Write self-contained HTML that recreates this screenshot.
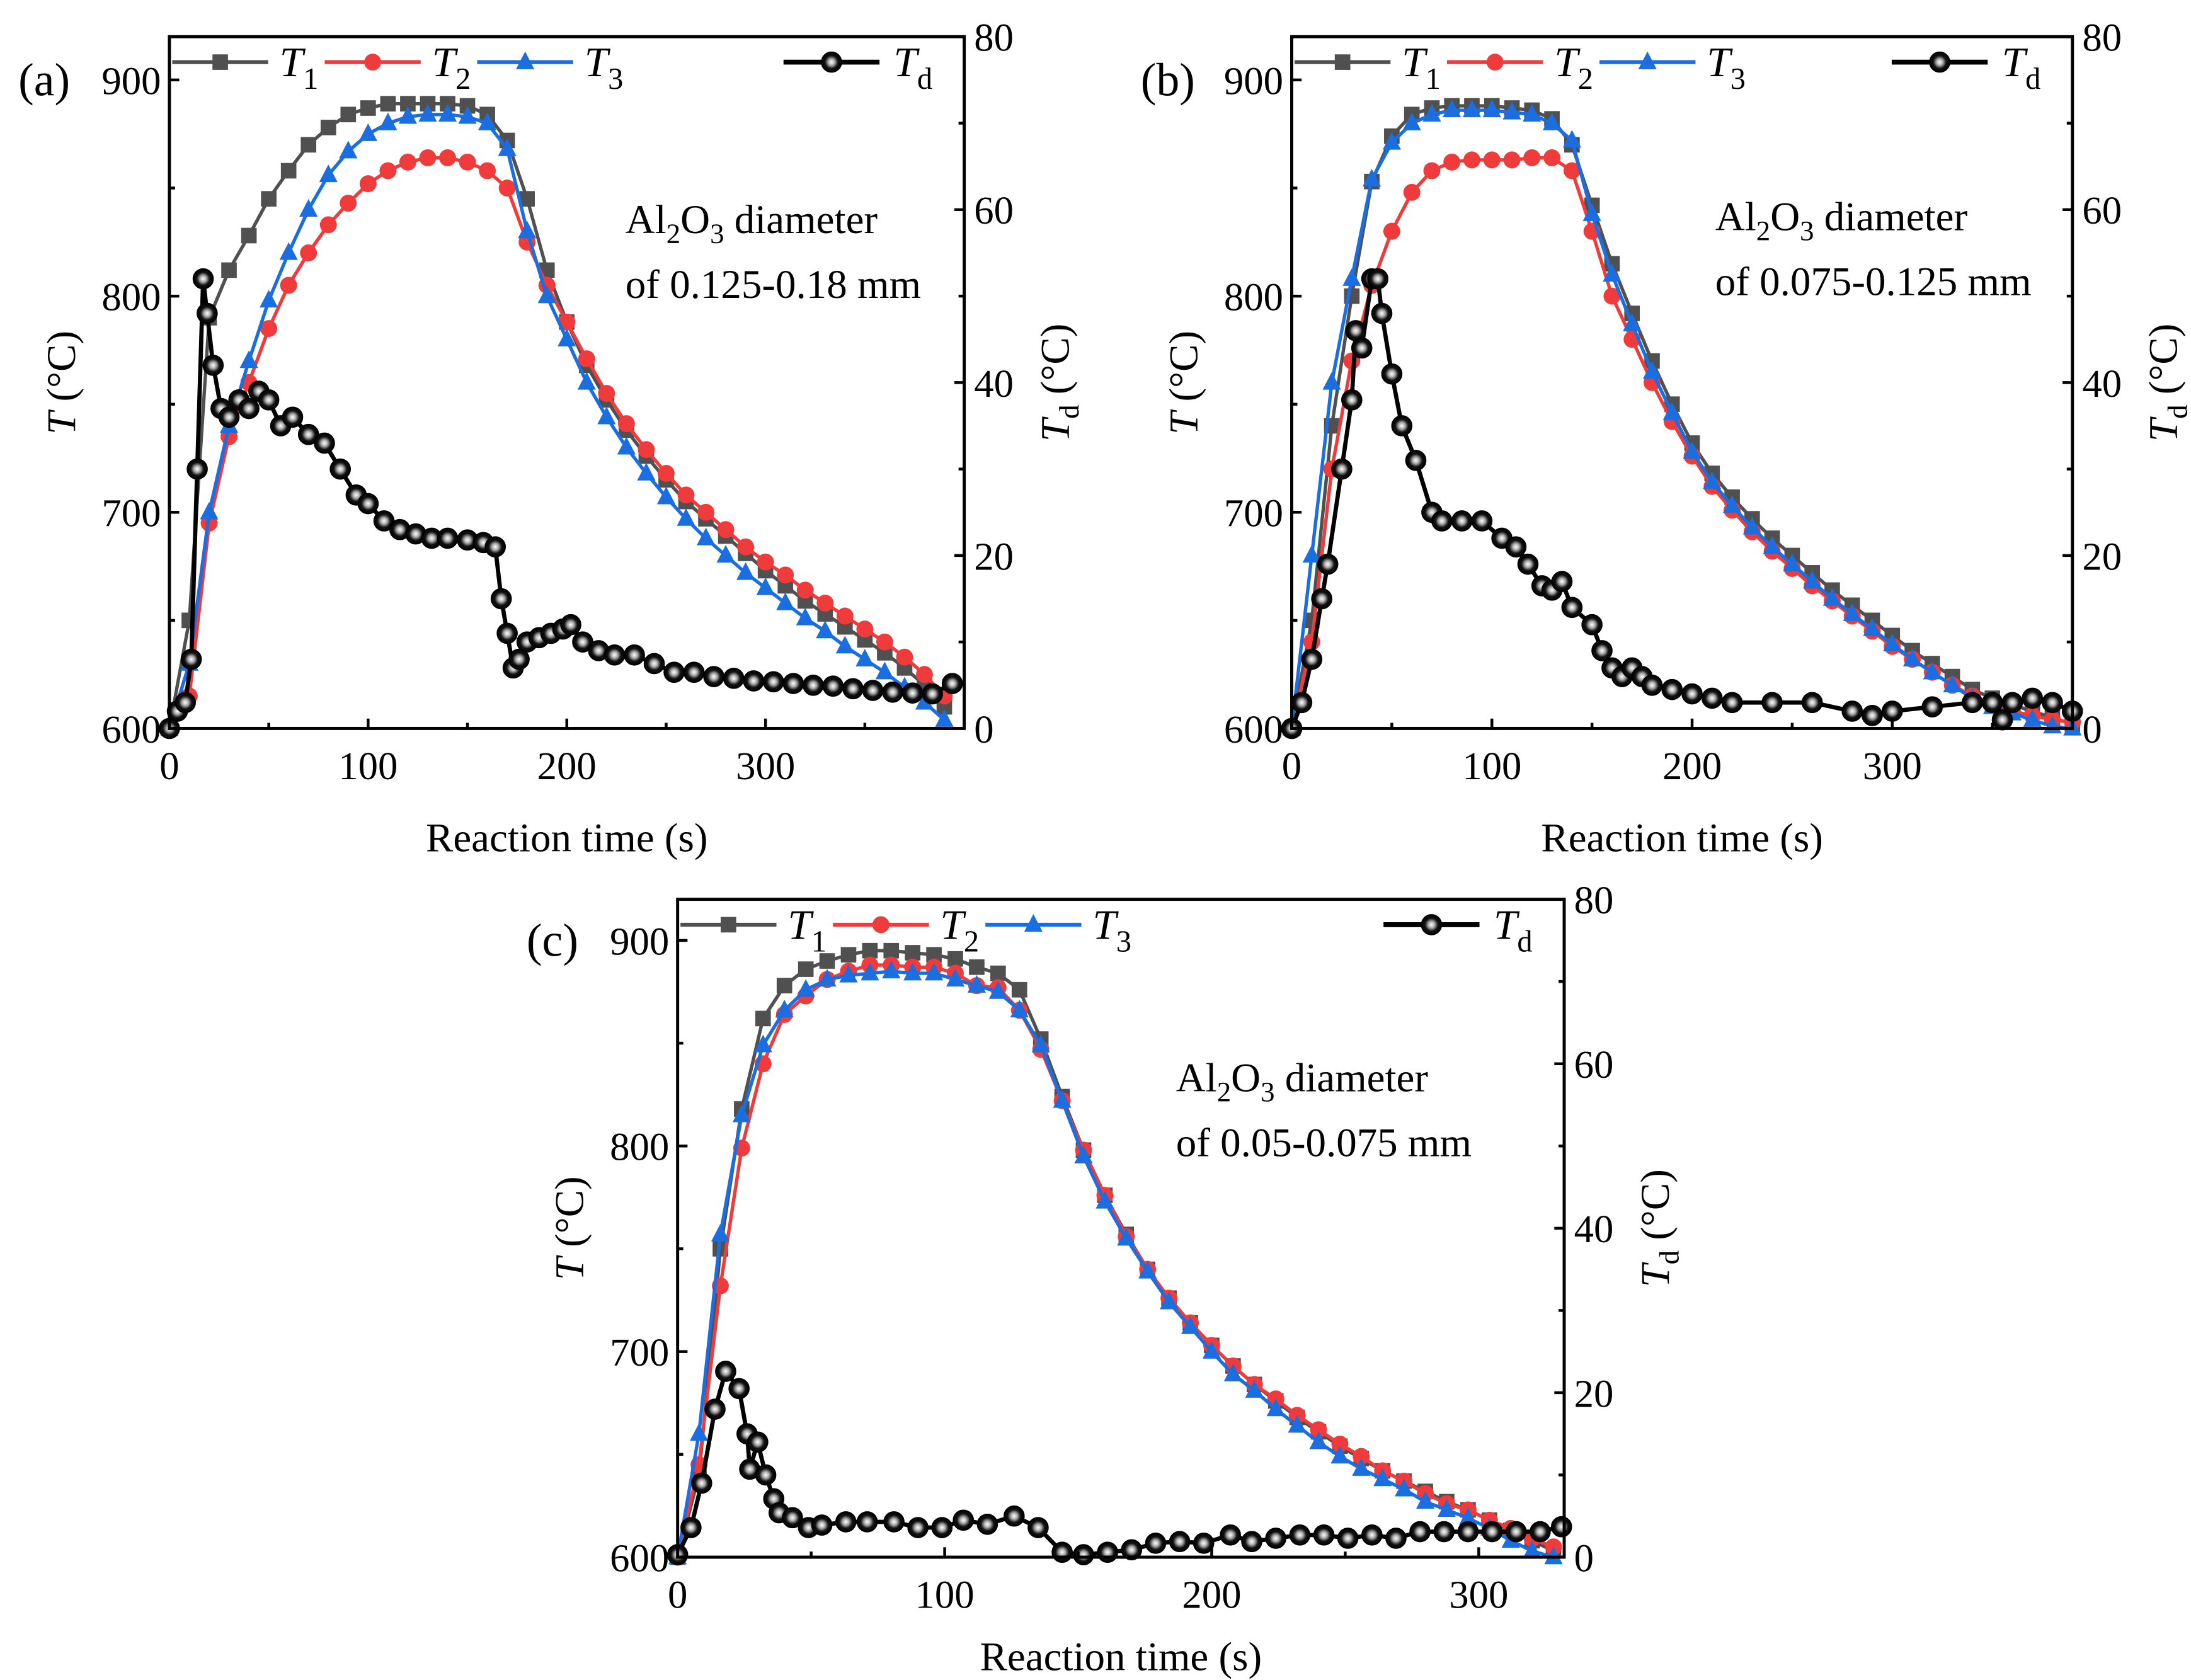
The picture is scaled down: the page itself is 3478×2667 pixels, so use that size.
<!DOCTYPE html>
<html><head><meta charset="utf-8">
<style>
html,body{margin:0;padding:0;background:#fff;}
svg{display:block;font-family:"Liberation Serif",serif;}
</style></head>
<body>
<svg id="fig" width="3478" height="2667" viewBox="0 0 1552 1190" preserveAspectRatio="none" xmlns="http://www.w3.org/2000/svg">
<defs>
<radialGradient id="ball" cx="0.5" cy="0.5" r="0.55">
<stop offset="0" stop-color="#ffffff"/><stop offset="0.3" stop-color="#aaaaaa"/><stop offset="0.6" stop-color="#111"/><stop offset="1" stop-color="#000"/>
</radialGradient>
</defs>
<rect x="0" y="0" width="1552" height="1190" fill="#fff"/>
</svg>
<script>
// ---- Panel (a) data ----
const aTime = [0,10,20,30,40,50,60,70,80,90,100,110,120,130,140,150,160,170,180,190,200,210,220,230,240,250,260,270,280,290,300,310,320,330,340,350,360,370,380,390];
const aT1 = [600,650,790,812,828,845,858,870,878,884,887,889,889,889,889,888,884,872,845,812,788,768,752,738,726,715,705,697,689,681,673,666,659,653,647,641,635,628,620,610];
const aT2 = [600,615,695,735,760,785,805,820,833,843,852,858,862,864,864,862,858,850,825,805,788,771,755,741,729,718,708,700,692,684,677,671,664,658,652,646,640,633,625,615];
const aT3 = [600,630,700,740,770,798,820,840,856,867,875,880,883,884,884,883,880,868,830,800,780,760,744,730,718,707,697,688,680,672,665,658,651,645,638,632,626,619,612,604];
const aTdTime = [0,4,8,11,14,17,19,22,26,30,35,40,45,50,56,62,70,78,86,94,100,108,116,124,132,140,150,158,164,167,170,173,176,180,186,192,198,202,208,216,224,234,244,254,264,274,284,294,304,314,324,334,344,354,364,374,384,394];
const aTd = [0,2,3,8,30,52,48,42,37,36,38,37,39,38,35,36,34,33,30,27,26,24,23,22.5,22,22,21.8,21.5,21,15,11,7,8,10,10.5,11,11.5,12,10,9,8.5,8.5,7.5,6.5,6.5,6,5.8,5.5,5.4,5.2,5,4.9,4.6,4.4,4.2,4.1,4,5.2];
// ---- Panel (b) data ----
const bTime = [0,10,20,30,40,50,60,70,80,90,100,110,120,130,140,150,160,170,180,190,200,210,220,230,240,250,260,270,280,290,300,310,320,330,340,350,360,370,380,390];
const bT1 = [600,650,740,800,853,874,884,887,888,888,888,887,886,882,870,842,815,792,770,750,732,718,707,697,688,680,672,664,657,650,643,636,630,624,618,614,611,608,605,602];
const bT2 = [600,640,720,770,805,830,848,858,862,863,863,863,864,864,858,830,800,780,760,742,726,712,701,691,682,674,666,659,652,645,638,632,626,620,615,611,608,606,604,603];
const bT3 = [600,680,760,808,854,871,880,884,886,886,886,885,884,880,872,838,810,787,765,746,728,714,703,693,684,676,668,660,653,646,639,632,626,620,614,610,607,604,601,600];
const bTdTime = [0,5,10,15,18,25,30,32,35,40,43,45,50,55,62,70,75,85,95,105,112,118,125,130,135,140,150,155,160,165,170,175,180,190,200,210,220,240,260,280,290,300,320,340,350,355,360,370,380,390];
const bTd = [0,3,8,15,19,30,38,46,44,52,52,48,41,35,31,25,24,24,24,22,21,19,16.5,16,17,14,12,9,7,6,7,6,5,4.5,4,3.5,3,3,3,2,1.5,2,2.5,3,3,1,3,3.5,3,2];
// ---- Panel (c) data ----
const cTime = [0,8,16,24,32,40,48,56,64,72,80,88,96,104,112,120,128,136,144,152,160,168,176,184,192,200,208,216,224,232,240,248,256,264,272,280,288,296,304,312,320,328];
const cT1 = [600,640,750,818,862,878,886,890,893,895,895,894,893,891,887,884,876,852,824,798,776,757,740,726,714,703,693,684,676,668,661,654,648,642,637,632,627,623,618,613,608,603];
const cT2 = [600,645,732,799,840,864,873,881,885,888,888,887,887,884,878,877,866,847,822,798,776,756,740,726,714,703,693,684,677,669,662,655,649,642,637,631,626,623,618,614,609,605];
const cT3 = [600,660,757,815,849,866,876,881,883,884,885,884,884,881,878,875,866,849,822,795,773,755,739,724,712,700,689,681,672,664,656,649,643,638,633,627,623,619,614,608,603,600];
const cTdTime = [0,5,9,14,18,23,26,27,30,33,36,38,43,49,54,63,71,81,90,99,107,116,126,135,144,152,161,170,179,188,197,207,215,224,233,242,251,260,269,278,287,296,305,314,323,331];
const cTd = [0.3,3.6,9,18,22.6,20.5,15,10.7,14,10,7.1,5.4,4.8,3.6,3.9,4.3,4.3,4.3,3.6,3.6,4.5,4,5,3.6,0.6,0.3,0.6,0.9,1.7,1.9,1.7,2.7,1.9,2.3,2.7,2.7,2.3,2.7,2.3,3.1,3.1,3.1,3.1,3.1,3.1,3.7];
const tTicksA = [0,100,200,300];
const yTicks = [600,700,800,900];
const y2Ticks = [0,20,40,60,80];

const NS = 'http://www.w3.org/2000/svg';
const svg = document.getElementById('fig');
function mk(parent, tag, attrs){
  const e = document.createElementNS(NS, tag);
  for (const k in attrs) e.setAttribute(k, attrs[k]);
  parent.appendChild(e);
  return e;
}
const C1 = '#505050', C2 = '#ef3b3b', C3 = '#1a6ee0';

function marker(g, kind, x, y, color){
  let m;
  if (kind === 'sq') m = mk(g,'rect',{x:x-5.5,y:y-5.5,width:11,height:11,fill:color});
  else if (kind === 'ci') m = mk(g,'circle',{cx:x,cy:y,r:6,fill:color});
  else if (kind === 'tr') m = mk(g,'polygon',{points:`${x},${y-7.5} ${x-6.5},${y+5} ${x+6.5},${y+5}`,fill:color});
  else { m = mk(g,'circle',{cx:x,cy:y,r:7,fill:'url(#ball)',stroke:'#000','stroke-width':1}); }
  return m;
}

function labelT(g, x, y, sub, size){
  const t = mk(g,'text',{x:x,y:y,'font-size':size});
  const a = mk(t,'tspan',{'font-style':'italic'}); a.textContent='T';
  const b = mk(t,'tspan',{dy:size*0.3,'font-size':size*0.72}); b.textContent=sub;
  return t;
}

function panel(o){
  const g = mk(svg,'g',{});
  
  
  const sx = t => o.x0 + t/o.tmax*(o.x1-o.x0);
  const sy = T => o.y1 - (T-600)/320*(o.y1-o.y0);
  const sy2 = v => o.y1 - v/80*(o.y1-o.y0);
  const series = [[o.T1,C1,'sq','t1'],[o.T2,C2,'ci','t2'],[o.T3,C3,'tr','t3']];
  series.forEach(s=>{
    const sg = mk(g,'g',{});
    
    
    const pts = o.time.map((t,i)=>sx(t).toFixed(1)+','+sy(s[0][i]).toFixed(1)).join(' ');
    const pl = mk(sg,'polyline',{points:pts,fill:'none',stroke:s[1],'stroke-width':2.4});
    
    
    o.time.forEach((t,i)=>{
      const m = marker(sg, s[2], sx(t), sy(s[0][i]), s[1]);
      
      
    });
  });
  const dg = mk(g,'g',{});
  
  
  const dpts = o.tdTime.map((t,i)=>sx(t).toFixed(1)+','+sy2(o.td[i]).toFixed(1)).join(' ');
  const dl = mk(dg,'polyline',{points:dpts,fill:'none',stroke:'#000','stroke-width':3,'stroke-linejoin':'round'});
  
  
  o.tdTime.forEach((t,i)=>{
    const m = marker(dg,'ball',sx(t),sy2(o.td[i]));
    
    
  });
  const fr = mk(g,'rect',{x:o.x0,y:o.y0,width:o.x1-o.x0,height:o.y1-o.y0,fill:'none',stroke:'#000','stroke-width':2.2});
  
  
  for (let t=0; t<=o.tmax; t+=50){
    const major = t%100===0;
    const tk = mk(g,'line',{x1:sx(t),x2:sx(t),y1:o.y1,y2:o.y1-(major?7:4),stroke:'#000','stroke-width':2});
    
    
  }
  tTicksA.forEach(t=>{
    const tx = mk(g,'text',{x:sx(t),y:o.y1+36,'font-size':28,'text-anchor':'middle'});
    tx.textContent = t;
    
    
  });
  for (let T=650; T<=900; T+=50){
    const major = T%100===0;
    const tk = mk(g,'line',{x1:o.x0,x2:o.x0+(major?7:4),y1:sy(T),y2:sy(T),stroke:'#000','stroke-width':2});
    
    
  }
  yTicks.forEach(T=>{
    const tx = mk(g,'text',{x:o.x0-6,y:sy(T)+10,'font-size':28,'text-anchor':'end'});
    tx.textContent = T;
    
    
  });
  for (let v=10; v<80; v+=10){
    const major = v%20===0;
    const tk = mk(g,'line',{x1:o.x1,x2:o.x1-(major?7:4),y1:sy2(v),y2:sy2(v),stroke:'#000','stroke-width':2});
    
    
  }
  y2Ticks.forEach(v=>{
    const tx = mk(g,'text',{x:o.x1+7,y:sy2(v)+10,'font-size':28});
    tx.textContent = v;
    
    
  });
  const xt = mk(g,'text',{x:(o.x0+o.x1)/2,y:o.y1+o.xtOff,'font-size':29,'text-anchor':'middle'});
  xt.textContent = 'Reaction time (s)';
  
  
  const yc = (o.y0+o.y1)/2;
  const yt = mk(g,'text',{x:0,y:0,'font-size':29,'text-anchor':'middle',transform:`translate(${o.x0-67},${yc}) rotate(-90)`});
  const yti = mk(yt,'tspan',{'font-style':'italic'}); yti.textContent='T';
  const ytr = mk(yt,'tspan',{}); ytr.textContent=' (°C)';
  
  
  const y2t = mk(g,'text',{x:0,y:0,'font-size':29,'text-anchor':'middle',transform:`translate(${o.x1+74},${yc}) rotate(-90)`});
  const y2a = mk(y2t,'tspan',{'font-style':'italic'}); y2a.textContent='T';
  const y2b = mk(y2t,'tspan',{dy:7,'font-size':20}); y2b.textContent='d';
  const y2c = mk(y2t,'tspan',{dy:-7}); y2c.textContent=' (°C)';
  
  
  const pl2 = mk(g,'text',{x:o.x0-107,y:sy(900)+11,'font-size':33});
  pl2.textContent = '('+o.id+')';
  
  
  const an = mk(g,'text',{x:o.ax,y:o.ay,'font-size':29});
  const a1 = mk(an,'tspan',{}); a1.textContent='Al';
  const a2 = mk(an,'tspan',{dy:7,'font-size':20}); a2.textContent='2';
  const a3 = mk(an,'tspan',{dy:-7}); a3.textContent='O';
  const a4 = mk(an,'tspan',{dy:7,'font-size':20}); a4.textContent='3';
  const a5 = mk(an,'tspan',{dy:-7}); a5.textContent=' diameter';
  
  
  const an2 = mk(g,'text',{x:o.ax,y:o.ay+46,'font-size':29});
  an2.textContent = o.range;
  
  
  const ly = o.y0+18;
  const lg = mk(g,'g',{});
  
  
  const entries = [[2,C1,'sq','1','t1'],[110,C2,'ci','2','t2'],[218,C3,'tr','3','t3']];
  entries.forEach(e=>{
    const eg = mk(lg,'g',{});
    
    
    const lx = o.x0+e[0];
    mk(eg,'line',{x1:lx,x2:lx+68,y1:ly,y2:ly,stroke:e[1],'stroke-width':2.8});
    marker(eg,e[2],lx+34,ly,e[1]);
    labelT(eg,lx+76,ly+10,e[3],30);
  });
  const eg = mk(lg,'g',{});
  
  
  const tdx = o.x1-128;
  mk(eg,'line',{x1:tdx,x2:tdx+68,y1:ly,y2:ly,stroke:'#000','stroke-width':3.5});
  marker(eg,'ball',tdx+34,ly);
  labelT(eg,tdx+78,ly+10,'d',30);
}

panel({id:'a',x0:120,x1:683,y0:26,y1:516,tmax:400,time:aTime,T1:aT1,T2:aT2,T3:aT3,tdTime:aTdTime,td:aTd,ax:443,ay:165,range:'of 0.125-0.18 mm',xtOff:87});
panel({id:'b',x0:915,x1:1468,y0:26,y1:516,tmax:390,time:bTime,T1:bT1,T2:bT2,T3:bT3,tdTime:bTdTime,td:bTd,ax:1215,ay:163,range:'of 0.075-0.125 mm',xtOff:87});
panel({id:'c',x0:480,x1:1108,y0:637,y1:1103,tmax:332,time:cTime,T1:cT1,T2:cT2,T3:cT3,tdTime:cTdTime,td:cTd,ax:833,ay:773,range:'of 0.05-0.075 mm',xtOff:80});
</script>
</body></html>
